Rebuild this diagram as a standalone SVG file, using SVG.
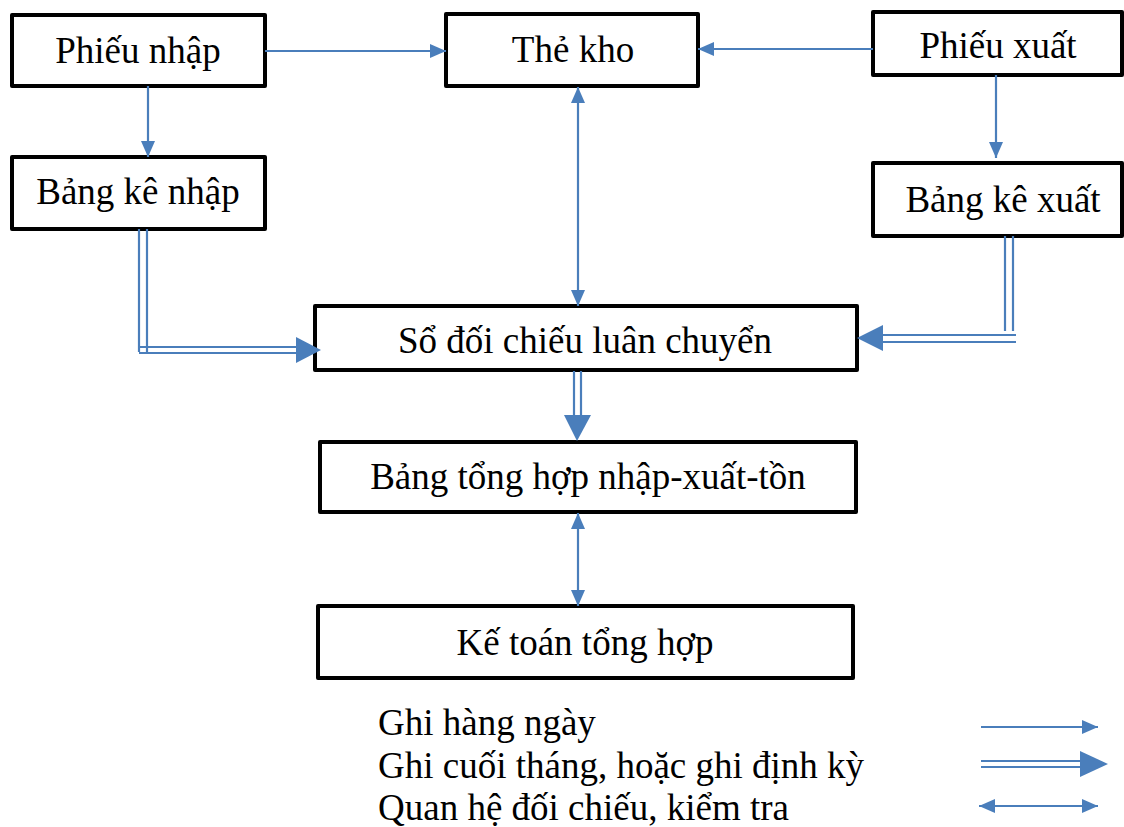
<svg xmlns="http://www.w3.org/2000/svg" width="1124" height="827" viewBox="0 0 1124 827">
  <style>
    .box { fill: #ffffff; stroke: #000000; stroke-width: 4; stroke-linejoin: round; }
    .lbl { font-family: "Liberation Serif", "Times New Roman", serif; font-size: 37px; fill: #000000; text-anchor: middle; }
    .leg { font-family: "Liberation Serif", "Times New Roman", serif; font-size: 37px; fill: #000000; }
    .ln { stroke: #4a7ebb; stroke-width: 2.2; fill: none; }
    .head { fill: #4a7ebb; stroke: none; }
  </style>
  <defs>
    <marker id="arr" viewBox="0 0 16 14" refX="16" refY="7" markerWidth="16" markerHeight="14" markerUnits="userSpaceOnUse" orient="auto-start-reverse">
      <path d="M0,0 L16,7 L0,14 Z" fill="#4a7ebb"/>
    </marker>
  </defs>

  <!-- nodes -->
  <g id="phieu-nhap">
    <rect class="box" x="12" y="15" width="253" height="71"/>
    <text class="lbl" x="138" y="63">Phiếu nhập</text>
  </g>
  <g id="bang-ke-nhap">
    <rect class="box" x="12" y="157" width="253" height="72"/>
    <text class="lbl" x="138" y="204">Bảng kê nhập</text>
  </g>
  <g id="the-kho">
    <rect class="box" x="446" y="14" width="252" height="72"/>
    <text class="lbl" x="573" y="62">Thẻ kho</text>
  </g>
  <g id="phieu-xuat">
    <rect class="box" x="873" y="12" width="249" height="63"/>
    <text class="lbl" x="998" y="58">Phiếu xuất</text>
  </g>
  <g id="bang-ke-xuat">
    <rect class="box" x="873" y="163" width="249" height="73"/>
    <text class="lbl" x="1003" y="212">Bảng kê xuất</text>
  </g>
  <g id="so-doi-chieu">
    <rect class="box" x="315" y="306" width="542" height="64"/>
    <text class="lbl" x="585" y="353">Sổ đối chiếu luân chuyển</text>
  </g>
  <g id="bang-tong-hop">
    <rect class="box" x="320" y="442" width="536" height="70"/>
    <text class="lbl" x="588" y="489">Bảng tổng hợp nhập-xuất-tồn</text>
  </g>
  <g id="ke-toan">
    <rect class="box" x="318" y="606" width="535" height="72"/>
    <text class="lbl" x="585" y="655">Kế toán tổng hợp</text>
  </g>

  <!-- connectors -->
  <g id="connectors">
    <!-- daily entries -->
    <line class="ln" x1="148" y1="86" x2="148" y2="157" marker-end="url(#arr)"/>
    <line class="ln" x1="265" y1="51" x2="446" y2="51" marker-end="url(#arr)"/>
    <line class="ln" x1="873" y1="49" x2="698" y2="49" marker-end="url(#arr)"/>
    <line class="ln" x1="996" y1="75" x2="996" y2="158" marker-end="url(#arr)"/>
    <!-- cross-checks -->
    <line class="ln" x1="578" y1="87" x2="578" y2="306" marker-start="url(#arr)" marker-end="url(#arr)"/>
    <line class="ln" x1="578" y1="513" x2="578" y2="606" marker-start="url(#arr)" marker-end="url(#arr)"/>
    <!-- periodic entries (double lines) -->
    <path class="ln" d="M139,229 V352"/>
    <path class="ln" d="M147,229 V352"/>
    <path class="ln" d="M139,347 H296"/>
    <path class="ln" d="M139,353 H296"/>
    <polygon class="head" points="296,337 321,350 296,363"/>

    <path class="ln" d="M1005,236 V331"/>
    <path class="ln" d="M1013,236 V331"/>
    <path class="ln" d="M1016,335 H883"/>
    <path class="ln" d="M1016,342 H883"/>
    <polygon class="head" points="883,325 857,338 883,351"/>

    <line class="ln" x1="574" y1="371" x2="574" y2="416"/>
    <line class="ln" x1="581" y1="371" x2="581" y2="416"/>
    <polygon class="head" points="564,415 591,415 577,441"/>
  </g>

  <!-- legend -->
  <g id="legend">
    <text class="leg" x="378" y="735">Ghi hàng ngày</text>
    <text class="leg" x="378" y="778">Ghi cuối tháng, hoặc ghi định kỳ</text>
    <text class="leg" x="378" y="820">Quan hệ đối chiếu, kiểm tra</text>
    <line class="ln" x1="981" y1="727" x2="1098" y2="727" marker-end="url(#arr)"/>
    <line class="ln" x1="981" y1="761" x2="1082" y2="761"/>
    <line class="ln" x1="981" y1="767" x2="1082" y2="767"/>
    <polygon class="head" points="1080,751 1108,764 1080,777"/>
    <line class="ln" x1="979" y1="806" x2="1098" y2="806" marker-start="url(#arr)" marker-end="url(#arr)"/>
  </g>
</svg>
